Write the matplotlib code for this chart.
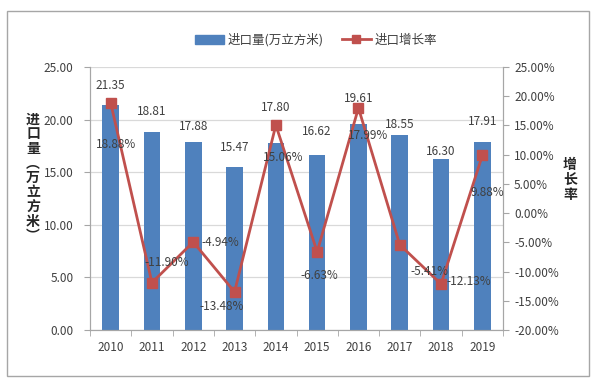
import matplotlib
matplotlib.use("Agg")
import matplotlib.pyplot as plt
from matplotlib.patches import Rectangle
from matplotlib.lines import Line2D
from matplotlib.ticker import FuncFormatter, MultipleLocator
import numpy as np

plt.rcParams['font.family'] = ['Noto Sans CJK SC', 'DejaVu Sans']

years = ['2010', '2011', '2012', '2013', '2014', '2015', '2016', '2017', '2018', '2019']
volume = [21.35, 18.81, 17.88, 15.47, 17.80, 16.62, 19.61, 18.55, 16.30, 17.91]
growth = [18.88, -11.90, -4.94, -13.48, 15.06, -6.63, 17.99, -5.41, -12.13, 9.88]

bar_name = '进口量(万立方米)'
line_name = '进口增长率'
left_label = '进\n口\n量\n︵\n万\n立\n方\n米\n︶'
right_label = '增\n长\n率'

# label offsets in pixels (dx, dy) relative to bar top / marker
bar_lab_off = [(0, 13), (0, 14), (0, 9), (0, 13), (0, 29), (0, 17), (0, 19), (0, 4), (0, 1), (0, 14)]
gr_lab_off = [(5, -42), (15, 20), (27, -1), (-13, -15), (7, -32), (2, -24), (10, -28), (30, -27), (28, 3), (5, -37)]

BLUE = '#4F81BD'
RED = '#C0504D'
GRID = '#D9D9D9'
TXT = '#404040'

fig = plt.figure(figsize=(6, 3.83), dpi=100)
fig.patch.set_facecolor('white')
# outer border
fig.patches.append(Rectangle((7/600, 1 - 376/383), (589-7)/600, (376-11)/383,
                             transform=fig.transFigure, fill=False, edgecolor='#A6A6A6', lw=1))

ax = fig.add_axes([90/600, 1 - 330/383, (503-90)/600, (330-67)/383])
ax2 = ax.twinx()

x = np.arange(len(years))
ax.bar(x, volume, width=0.4, color=BLUE, zorder=2)
ax.set_xlim(-0.5, len(years) - 0.5)
ax.set_ylim(0, 25)
ax.yaxis.set_major_locator(MultipleLocator(5))
ax.yaxis.set_major_formatter(FuncFormatter(lambda v, p: f'{v:.2f}'))
ax.grid(axis='y', color=GRID, lw=0.9, zorder=0)
ax.set_axisbelow(True)
ax.set_xticks(x)
ax.set_xticklabels(years)
ax.set_xticks(np.arange(-0.5, len(years), 1), minor=True)
ax.tick_params(axis='x', which='major', length=0, pad=8, labelsize=8.5, labelcolor=TXT)
ax.tick_params(axis='x', which='minor', length=4, color='#A6A6A6')
ax.tick_params(axis='y', length=4, color='#A6A6A6', labelsize=8.5, labelcolor=TXT, pad=8)

ax2.plot(x, growth, color=RED, lw=2, marker='s', markersize=7, markerfacecolor=RED,
         markeredgecolor=RED, zorder=3)
ax2.set_ylim(-20, 25)
ax2.yaxis.set_major_locator(MultipleLocator(5))
ax2.yaxis.set_major_formatter(FuncFormatter(lambda v, p: f'{v:.2f}%'))
ax2.tick_params(axis='y', length=4, color='#A6A6A6', labelsize=8.5, labelcolor=TXT, pad=4)

for a in (ax, ax2):
    a.spines['top'].set_visible(False)
    a.spines['left'].set_color('#A6A6A6')
    a.spines['right'].set_color('#A6A6A6')
    a.spines['bottom'].set_color('#A6A6A6')

for i, v in enumerate(volume):
    dx, dy = bar_lab_off[i]
    ax.annotate(f'{v:.2f}', (x[i], v), xytext=(dx * 0.72, dy * 0.72), textcoords='offset points',
                ha='center', va='bottom', fontsize=8.5, color=TXT, zorder=5)
for i, g in enumerate(growth):
    dx, dy = gr_lab_off[i]
    ax2.annotate(f'{g:.2f}%', (x[i], g), xytext=(dx * 0.72, dy * 0.72), textcoords='offset points',
                 ha='center', va='center', fontsize=8.5, color=TXT, zorder=5)

fig.text(33/600, 1 - 178/383, left_label, ha='center', va='center', fontsize=10,
         fontweight='bold', linespacing=1.05, color='#262626')
fig.text(570/600, 1 - 180/383, right_label, ha='center', va='center', fontsize=10,
         fontweight='bold', linespacing=1.05, color='#262626')

handles = [Rectangle((0, 0), 1, 1, color=BLUE),
           Line2D([0], [0], color=RED, lw=2, marker='s', markersize=6)]
fig.legend(handles, [bar_name, line_name], loc='center', bbox_to_anchor=(316/600, 1 - 40/383),
           ncol=2, frameon=False, fontsize=9, handlelength=2.3, columnspacing=1.5,
           handletextpad=0.3, labelcolor=TXT)

fig.savefig('out.png', dpi=100)
